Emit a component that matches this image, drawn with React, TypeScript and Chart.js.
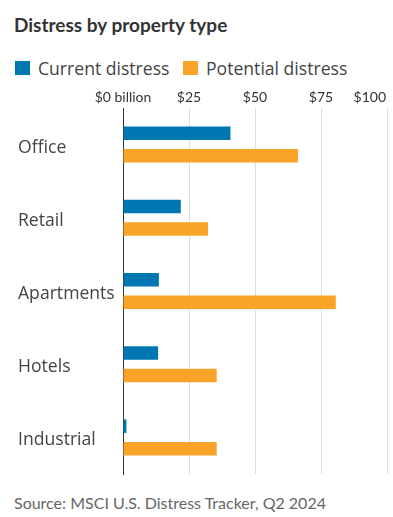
import React, { useEffect, useRef } from "react";
import { Chart, registerables } from "chart.js";

Chart.register(...registerables);

const categories = ["Office", "Retail", "Apartments", "Hotels", "Industrial"];
const currentDistress = [40.7, 21.9, 13.6, 13.3, 1.3];
const potentialDistress = [66.3, 32.2, 80.6, 35.5, 35.5];
const xTickValues = [0, 25, 50, 75, 100];
const xTickLabels = ["$0 billion", "$25", "$50", "$75", "$100"];

const BLUE = "#0077b0";
const ORANGE = "#f9a329";
const FONT = "Lato, 'Noto Sans', sans-serif";
const FONT2 = "'Open Sans', 'Noto Sans', sans-serif";

const topTicksPlugin = {
  id: "topTicks",
  afterDraw(chart: any) {
    const { ctx } = chart;
    const xs = chart.scales.x;
    const top = chart.chartArea.top;
    ctx.save();
    ctx.font = `14px ${FONT}`;
    ctx.fillStyle = "#333";
    ctx.textBaseline = "middle";
    xTickValues.forEach((v, i) => {
      const label = xTickLabels[i];
      const w = ctx.measureText(label).width;
      let x = xs.getPixelForValue(v);
      const maxRight = chart.width - 7;
      ctx.textAlign = "center";
      if (x + w / 2 > maxRight) {
        x = maxRight;
        ctx.textAlign = "right";
      }
      ctx.fillText(label, x, top - 11);
    });
    ctx.restore();
  },
};

export default function App() {
  const ref = useRef<HTMLCanvasElement | null>(null);

  useEffect(() => {
    document.body.style.margin = "0";
    if (!ref.current) return;
    const chart = new Chart(ref.current, {
      type: "bar",
      data: {
        labels: categories,
        datasets: [
          {
            label: "Current distress",
            data: currentDistress,
            backgroundColor: BLUE,
            categoryPercentage: 0.615,
            barPercentage: 0.6,
          },
          {
            label: "Potential distress",
            data: potentialDistress,
            backgroundColor: ORANGE,
            categoryPercentage: 0.615,
            barPercentage: 0.6,
          },
        ],
      },
      options: {
        indexAxis: "y",
        animation: false,
        responsive: false,
        maintainAspectRatio: false,
        layout: { padding: { top: 28, bottom: 6, left: 18, right: 6 } },
        plugins: {
          legend: { display: false },
          tooltip: { enabled: false },
          title: { display: false },
        },
        scales: {
          x: {
            position: "top",
            min: 0,
            max: 100,
            ticks: { display: false, stepSize: 25 },
            grid: {
              drawTicks: false,
              color: (c: any) => (c.tick && c.tick.value === 0 ? "rgba(0,0,0,0)" : "#dedede"),
              lineWidth: 1,
            },
            border: { display: false },
            afterFit: (s: any) => {
              s.height = 0;
              s.paddingLeft = 0;
              s.paddingRight = 0;
            },
          },
          y: {
            grid: { display: false, drawTicks: false },
            border: { display: true, color: "#333", width: 1 },
            ticks: {
              crossAlign: "far",
              color: "#444",
              labelOffset: 3,
              font: { family: FONT2, size: 17.6 },
            },
            afterFit: (s: any) => {
              s.width = 105;
              s.paddingTop = 0;
              s.paddingBottom = 0;
            },
          },
        },
      } as any,
      plugins: [topTicksPlugin],
    });
    return () => chart.destroy();
  }, []);

  const sq = (left: number, color: string) => (
    <div style={{ position: "absolute", left, top: 61, width: 15, height: 14, background: color }} />
  );

  const legendText = {
    position: "absolute" as const,
    top: 57,
    fontSize: 17.6,
    lineHeight: "22px",
    color: "#444",
    whiteSpace: "nowrap" as const,
    fontFamily: FONT2,
  };

  return (
    <div
      style={{
        position: "fixed",
        left: 0,
        top: 0,
        width: 393,
        height: 517,
        overflow: "hidden",
        background: "#fff",
        fontFamily: FONT,
      }}
    >
      <div
        style={{
          position: "absolute",
          left: 14,
          top: 15,
          fontSize: 19,
          lineHeight: "20px",
          fontWeight: 700,
          color: "#333",
          whiteSpace: "nowrap",
        }}
      >
        Distress by property type
      </div>
      {sq(15, BLUE)}
      <div style={{ ...legendText, left: 38 }}>Current distress</div>
      {sq(183, ORANGE)}
      <div style={{ ...legendText, left: 206 }}>Potential distress</div>
      <canvas ref={ref} width={393} height={400} style={{ position: "absolute", left: 0, top: 80, width: 393, height: 400 }} />
      <div style={{ position: "absolute", left: 14, top: 493, fontSize: 16, lineHeight: "20px", color: "#666", whiteSpace: "nowrap" }}>
        Source: MSCI U.S. Distress Tracker, Q2 2024
      </div>
    </div>
  );
}
